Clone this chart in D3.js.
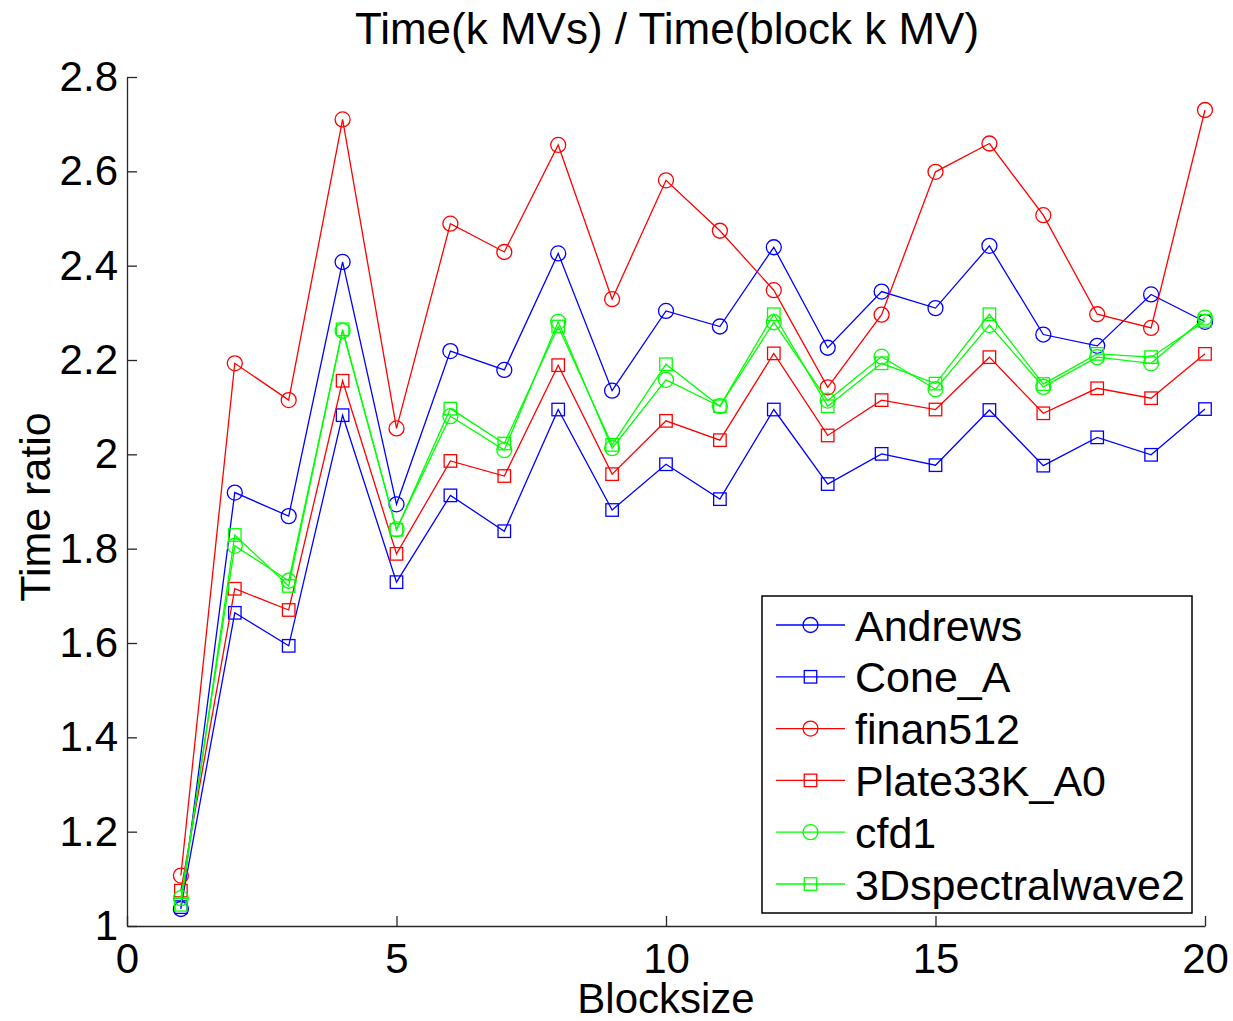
<!DOCTYPE html>
<html><head><meta charset="utf-8">
<script src="https://cdn.jsdelivr.net/npm/d3@7"></script>
<style>body{margin:0;background:#fff}svg{display:block}</style>
</head><body><svg id="c" width="1233" height="1021"></svg>
<script>
const blocksize = [1,2,3,4,5,6,7,8,9,10,11,12,13,14,15,16,17,18,19,20];
const seriesNames = ["Andrews","Cone_A","finan512","Plate33K_A0","cfd1","3Dspectralwave2"];
const andrews  = [1.036,1.919,1.869,2.408,1.894,2.219,2.179,2.426,2.135,2.304,2.271,2.439,2.226,2.345,2.310,2.442,2.254,2.230,2.339,2.281];
const coneA    = [1.040,1.664,1.594,2.083,1.729,1.913,1.837,2.095,1.882,1.979,1.905,2.095,1.937,2.001,1.977,2.094,1.976,2.036,1.999,2.096];
const finan512 = [1.107,2.193,2.115,2.710,2.055,2.489,2.429,2.656,2.329,2.581,2.474,2.348,2.142,2.296,2.599,2.659,2.507,2.297,2.268,2.730];
const plate33k = [1.075,1.715,1.670,2.156,1.789,1.986,1.954,2.189,1.958,2.071,2.030,2.214,2.040,2.115,2.095,2.206,2.087,2.140,2.119,2.213];
const cfd1     = [1.059,1.806,1.732,2.262,1.841,2.081,2.009,2.281,2.013,2.158,2.102,2.280,2.114,2.207,2.138,2.274,2.143,2.206,2.193,2.290];
const spectral = [1.045,1.829,1.721,2.265,1.840,2.097,2.023,2.271,2.020,2.191,2.102,2.297,2.102,2.193,2.150,2.297,2.149,2.213,2.206,2.283];
const seriesValues = [andrews, coneA, finan512, plate33k, cfd1, spectral];
const seriesColors = ["#0000ff","#0000ff","#ff0000","#ff0000","#00ff00","#00ff00"];
const seriesMarkers = ["circle","square","circle","square","circle","square"];
const xTicks = [0,5,10,15,20];
const xTickLabels = ["0","5","10","15","20"];
const yTicks = [1,1.2,1.4,1.6,1.8,2,2.2,2.4,2.6,2.8];
const yTickLabels = ["1","1.2","1.4","1.6","1.8","2","2.2","2.4","2.6","2.8"];
const titleText = "Time(k MVs) / Time(block k MV)";
const xLabel = "Blocksize";
const yLabel = "Time ratio";

const FONT = "'Liberation Sans', Arial, Helvetica, sans-serif";
const svg = d3.select("#c");
svg.append("rect").attr("width",1233).attr("height",1021).attr("fill","#fff");

const x = d3.scaleLinear().domain([0,20]).range([127,1205]);
const y = d3.scaleLinear().domain([1,2.8]).range([926,77]);

// axes
const xAxis = d3.axisBottom(x).tickValues(xTicks).tickFormat((d,i)=>xTickLabels[i])
  .tickSizeInner(-10).tickSizeOuter(0).tickPadding(17);
const gx = svg.append("g").attr("transform","translate(0,926)").call(xAxis);
const yAxis = d3.axisLeft(y).tickValues(yTicks).tickFormat((d,i)=>yTickLabels[i])
  .tickSizeInner(-10).tickSizeOuter(0).tickPadding(9);
const gy = svg.append("g").attr("transform","translate(127,0)").call(yAxis);
[gx,gy].forEach(g=>{
  g.select(".domain").attr("stroke","#262626").attr("stroke-width",1.3);
  g.selectAll(".tick line").attr("stroke","#262626").attr("stroke-width",1.3);
  g.selectAll(".tick text").attr("fill","#000").style("font-family",FONT).style("font-size","42px");
});

// series
const line = d3.line().x((d,i)=>x(blocksize[i])).y(d=>y(d));
seriesValues.forEach((vals,si)=>{
  const g = svg.append("g");
  g.append("path").datum(vals).attr("d",line).attr("fill","none")
    .attr("stroke",seriesColors[si]).attr("stroke-width",1.3);
  if (seriesMarkers[si]==="circle") {
    g.selectAll("circle").data(vals).join("circle")
      .attr("cx",(d,i)=>x(blocksize[i])).attr("cy",d=>y(d)).attr("r",7.5)
      .attr("fill","none").attr("stroke",seriesColors[si]).attr("stroke-width",1.3);
  } else {
    g.selectAll("rect").data(vals).join("rect")
      .attr("x",(d,i)=>x(blocksize[i])-6.25).attr("y",d=>y(d)-6.25)
      .attr("width",12.5).attr("height",12.5)
      .attr("fill","none").attr("stroke",seriesColors[si]).attr("stroke-width",1.3);
  }
});

// title and labels
svg.append("text").attr("x",667).attr("y",44).attr("text-anchor","middle")
  .style("font-family",FONT).style("font-size","44px").attr("fill","#000").text(titleText);
svg.append("text").attr("x",666).attr("y",1013).attr("text-anchor","middle")
  .style("font-family",FONT).style("font-size","42px").attr("fill","#000").text(xLabel);
svg.append("text").attr("transform","translate(50,507) rotate(-90)").attr("text-anchor","middle")
  .style("font-family",FONT).style("font-size","43px").attr("fill","#000").text(yLabel);

// legend
const lg = svg.append("g");
lg.append("rect").attr("x",762).attr("y",596).attr("width",430).attr("height",317)
  .attr("fill","#fff").attr("stroke","#000").attr("stroke-width",1.5);
seriesNames.forEach((name,si)=>{
  const cy = 625 + si*51.8;
  lg.append("line").attr("x1",776).attr("x2",845).attr("y1",cy).attr("y2",cy)
    .attr("stroke",seriesColors[si]).attr("stroke-width",1.3);
  if (seriesMarkers[si]==="circle") {
    lg.append("circle").attr("cx",810.5).attr("cy",cy).attr("r",7.5)
      .attr("fill","none").attr("stroke",seriesColors[si]).attr("stroke-width",1.3);
  } else {
    lg.append("rect").attr("x",810.5-6.25).attr("y",cy-6.25).attr("width",12.5).attr("height",12.5)
      .attr("fill","none").attr("stroke",seriesColors[si]).attr("stroke-width",1.3);
  }
  lg.append("text").attr("x",855).attr("y",cy+15.5)
    .style("font-family",FONT).style("font-size","43px").attr("fill","#000").text(name);
});
</script>
</body></html>
